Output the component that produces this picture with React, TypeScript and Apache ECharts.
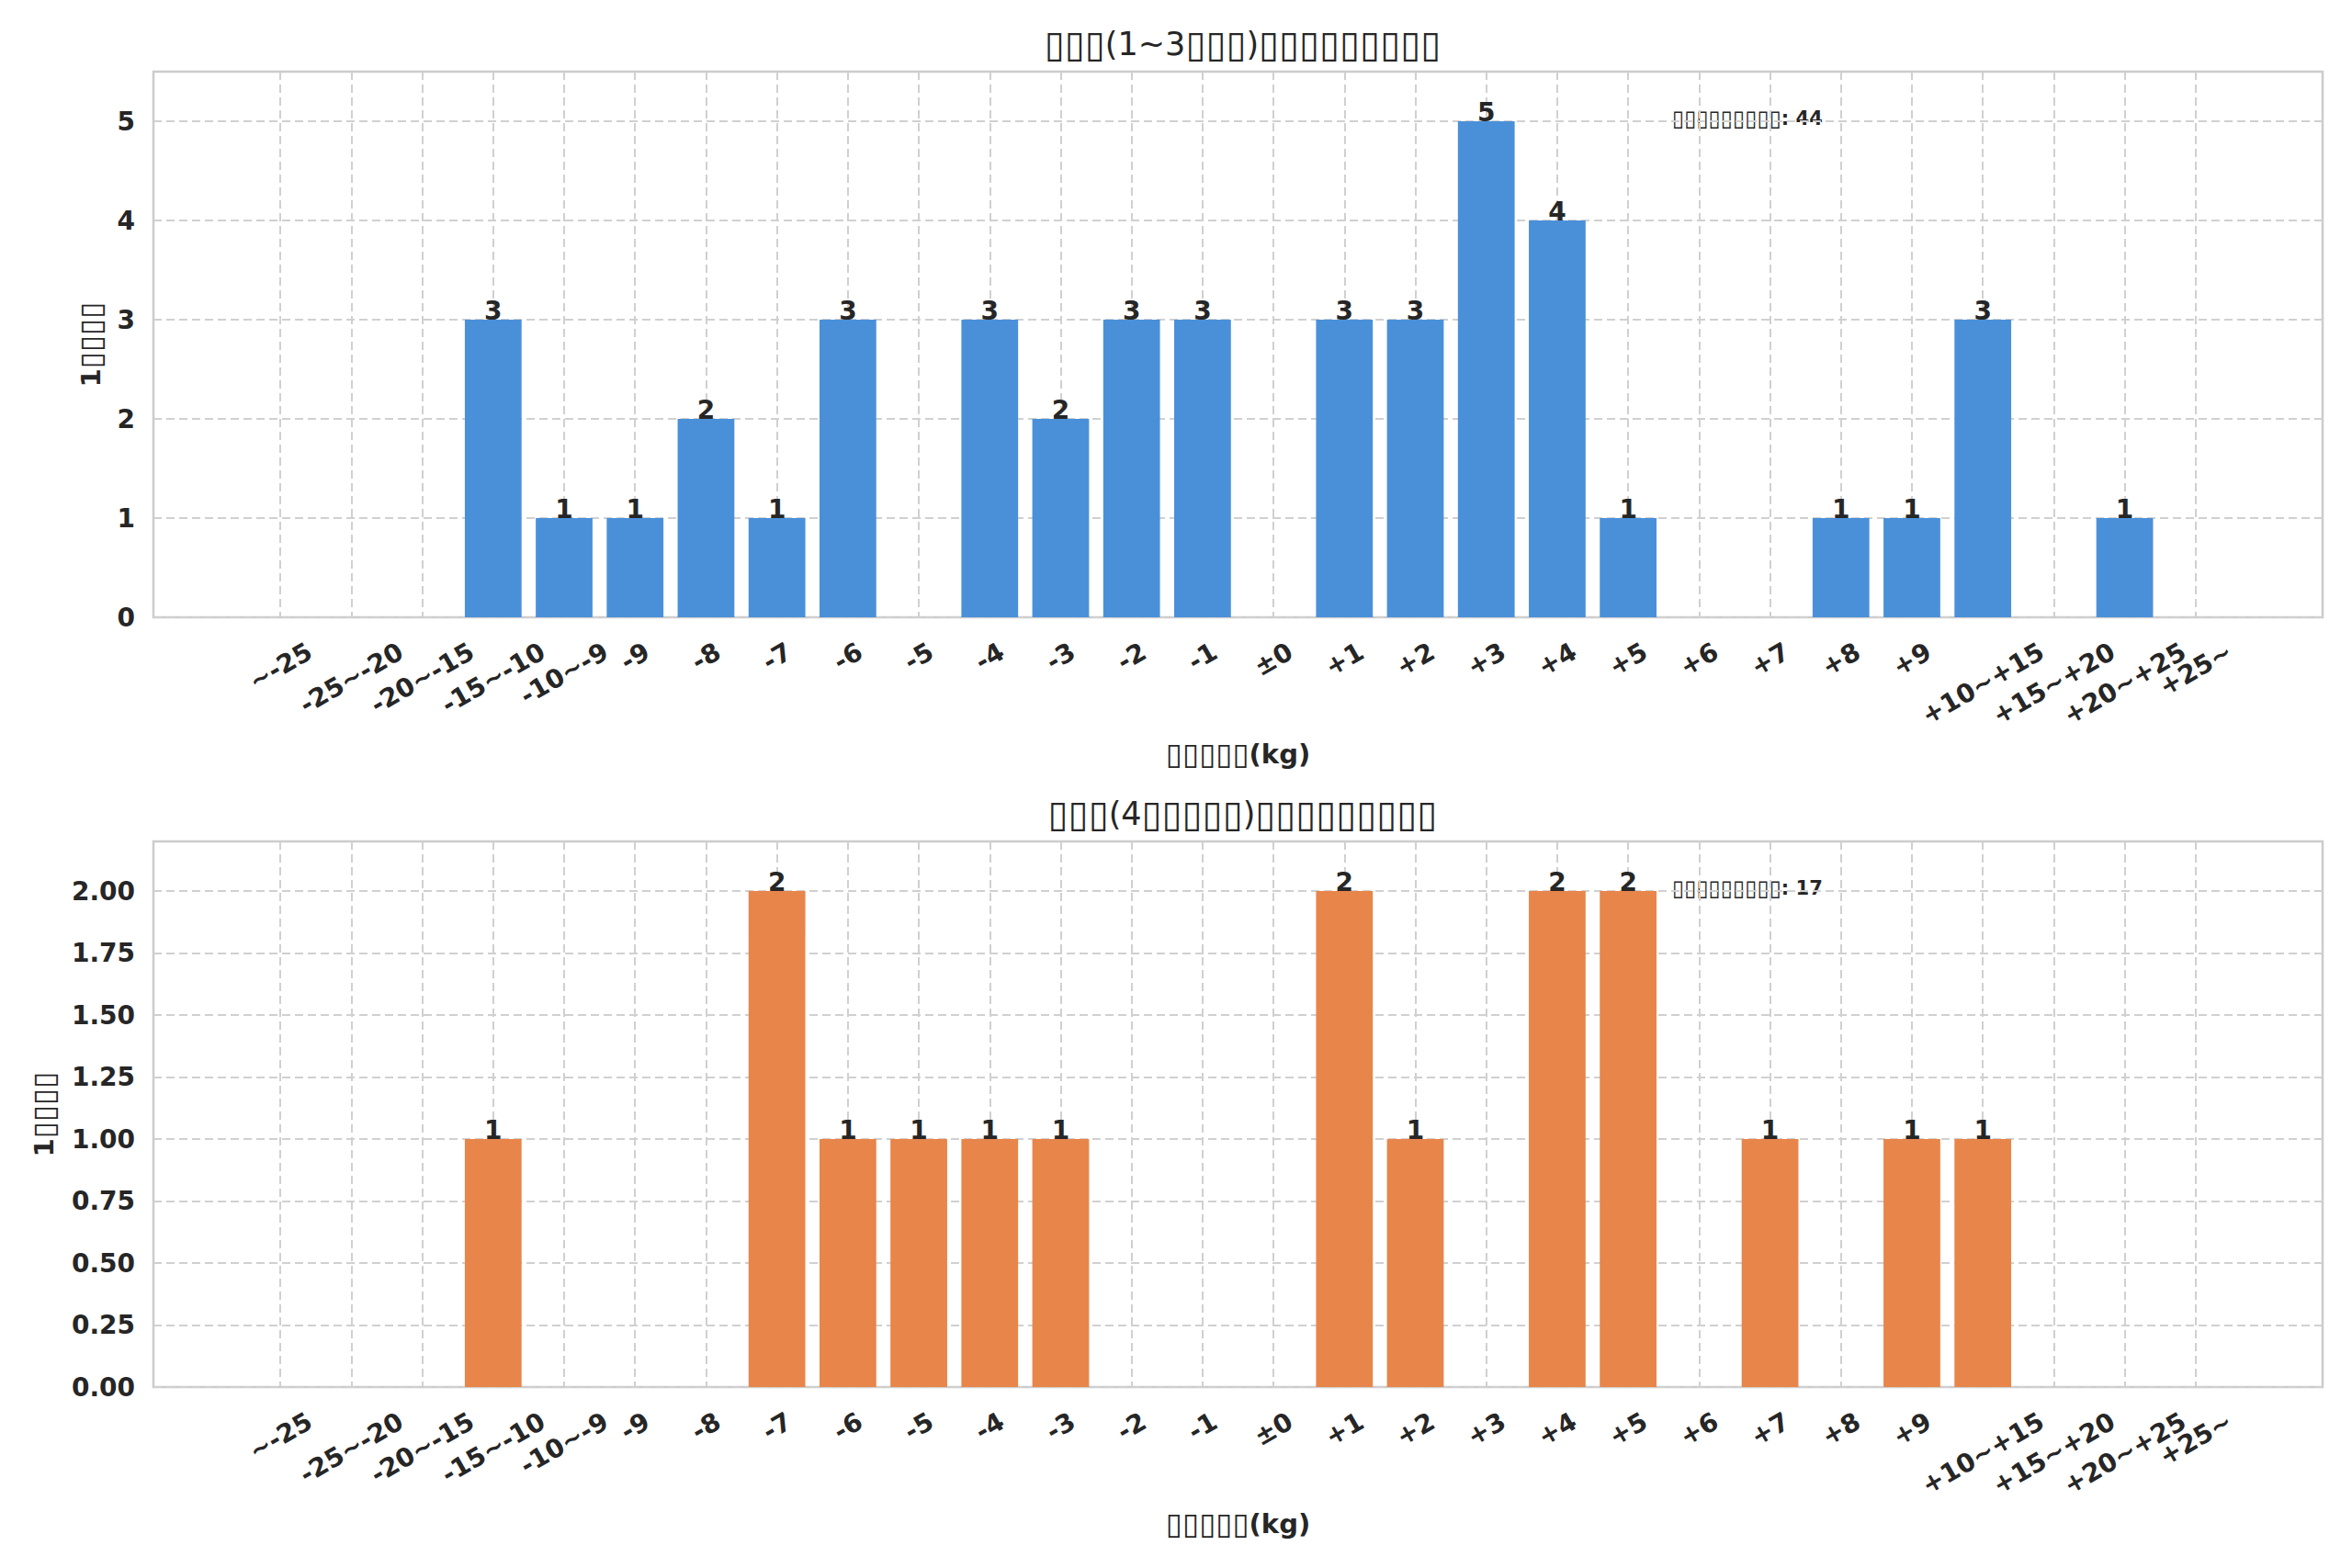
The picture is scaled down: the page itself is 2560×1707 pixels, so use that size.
import React, { useEffect, useRef } from 'react';
import * as echarts from 'echarts';

// weight-change buckets (kg)
const categories = [
  '~-25', '-25~-20', '-20~-15', '-15~-10', '-10~-9', '-9', '-8', '-7', '-6', '-5',
  '-4', '-3', '-2', '-1', '±0', '+1', '+2', '+3', '+4', '+5', '+6', '+7', '+8', '+9',
  '+10~+15', '+15~+20', '+20~+25', '+25~',
];
const shortTermCounts = [0, 0, 0, 3, 1, 1, 2, 1, 3, 0, 3, 2, 3, 3, 0, 3, 3, 5, 4, 1, 0, 0, 1, 1, 3, 0, 1, 0];
const longTermCounts = [0, 0, 0, 1, 0, 0, 0, 2, 1, 1, 1, 1, 0, 0, 0, 2, 1, 0, 2, 2, 0, 1, 0, 1, 1, 0, 0, 0];
const shortTermTicks = [0, 1, 2, 3, 4, 5];
const longTermTicks = [0, 0.25, 0.5, 0.75, 1, 1.25, 1.5, 1.75, 2];

// the source text was rendered without CJK glyphs, so only boxes are visible
const shortTitle = '▯▯▯(1~3▯▯▯)▯▯▯▯▯▯▯▯▯';
const longTitle = '▯▯▯(4▯▯▯▯▯)▯▯▯▯▯▯▯▯▯';
const xName = '▯▯▯▯▯(kg)';
const yName = '1▯▯▯▯';
const totalName = '▯▯▯▯▯▯▯▯▯';

const FONT = '"DejaVu Sans", sans-serif';
const TEXT = '#262626';
const TICK = 28;
const GRID_LEFT = 167;
const GRID_RIGHT = 32;
const PLOT_H = 594;
const gridLine = { color: '#d0d0d0', width: 2, type: [9, 5] as number[] };

// wrap runs of boxes in a rich style so they can be a little larger
const boxify = (s: string) => s.replace(/▯+/g, (m) => `{b|${m}}`);
const boxStyle = (size: number) => ({
  b: { fontSize: Math.round(size * 1.14), fontWeight: 'normal', fontFamily: FONT, color: TEXT },
});

export default function WeightChangeCharts() {
  const ref = useRef<HTMLDivElement>(null);
  useEffect(() => {
    document.body.style.margin = '0';
    if (!ref.current) return;

    // rotated x labels are centred under their tick (like matplotlib), so
    // shift each one down by half its rotated height using padding
    const ctx = document.createElement('canvas').getContext('2d')!;
    ctx.font = `bold ${TICK}px ${FONT}`;
    const rich: Record<string, any> = {};
    categories.forEach((c, i) => {
      const w = ctx.measureText(c).width;
      const d = (0.5 * w + 0.866 * TICK) / 2;
      rich['r' + i] = {
        padding: [1.732 * d, d, 0, 0],
        fontSize: TICK, fontWeight: 'bold', fontFamily: FONT, color: TEXT,
      };
    });
    const idx = categories.map((_, i) => i);
    // empty end labels keep ECharts from dropping the overlapping last one
    const labelValues = [-1.7, ...idx, categories.length - 0.3];

    const panels = [
      { title: shortTitle, counts: shortTermCounts, ticks: shortTermTicks, color: '#4a90d9', top: 78, yGap: 52, fmt: (v: number) => String(v) },
      { title: longTitle, counts: longTermCounts, ticks: longTermTicks, color: '#e8854a', top: 916, yGap: 103, fmt: (v: number) => v.toFixed(2) },
    ];

    const chart = echarts.init(ref.current, null, { renderer: 'svg' });
    chart.setOption({
      animation: false,
      backgroundColor: '#ffffff',
      title: panels.map((p) => ({
        text: boxify(p.title),
        left: GRID_LEFT + (2560 - GRID_LEFT - GRID_RIGHT) / 2,
        top: p.top - 55,
        textAlign: 'center',
        textStyle: { fontSize: 35, fontWeight: 'normal', color: TEXT, fontFamily: FONT, rich: boxStyle(35) },
      })),
      grid: panels.map((p) => ({
        left: GRID_LEFT, right: GRID_RIGHT, top: p.top, height: PLOT_H,
        show: true, borderColor: '#cccccc', borderWidth: 2.5, backgroundColor: 'transparent',
        outerBoundsMode: 'none',
      })),
      xAxis: panels.map((p, k) => ({
        type: 'value', gridIndex: k, min: -1.79, max: 28.79,
        name: boxify(xName), nameLocation: 'middle', nameGap: 132, nameMoveOverlap: false,
        nameTextStyle: { fontSize: 29, fontWeight: 'bold', color: TEXT, fontFamily: FONT, rich: boxStyle(29) },
        axisLine: { show: false },
        axisTick: { show: false, customValues: idx },
        axisLabel: {
          customValues: labelValues, rotate: 30, align: 'center', verticalAlign: 'middle', margin: 23,
          hideOverlap: false,
          formatter: (v: number) => {
            const i = Math.round(v);
            return Math.abs(v - i) < 1e-6 && categories[i] ? `{r${i}|${categories[i]}}` : '';
          },
          rich,
        },
        splitLine: { show: true, lineStyle: gridLine },
      })),
      yAxis: panels.map((p, k) => ({
        type: 'value', gridIndex: k, min: 0, max: Math.max(...p.counts) * 1.1,
        name: boxify(yName), nameLocation: 'middle', nameGap: p.yGap, nameMoveOverlap: false,
        nameTextStyle: { fontSize: 29, fontWeight: 'bold', color: TEXT, fontFamily: FONT, rich: boxStyle(29) },
        axisLine: { show: false },
        axisTick: { show: false, customValues: p.ticks },
        axisLabel: {
          customValues: p.ticks, formatter: p.fmt, margin: 20,
          fontSize: TICK, fontWeight: 'bold', color: TEXT, fontFamily: FONT,
        },
        splitLine: { show: true, lineStyle: gridLine },
      })),
      series: panels.map((p, k) => ({
        type: 'bar', xAxisIndex: k, yAxisIndex: k,
        data: p.counts.map((v, i) => [i, v]),
        barWidth: '80%',
        itemStyle: { color: p.color },
        label: {
          show: true, position: 'top', distance: -4,
          formatter: (q: any) => (q.value[1] ? String(q.value[1]) : ''),
          fontSize: TICK, fontWeight: 'bold', color: TEXT, fontFamily: FONT,
        },
      })),
      graphic: panels.map((p) => ({
        type: 'text', left: 1820, top: p.top + 39,
        style: {
          text: `{b|${totalName}}: ${p.counts.reduce((a, b) => a + b, 0)}`,
          font: `bold 21px ${FONT}`, fill: TEXT,
          rich: { b: { fontSize: 24, fontWeight: 'normal', fontFamily: FONT, fill: TEXT } },
        },
      })),
    });
    return () => chart.dispose();
  }, []);
  return <div ref={ref} style={{ width: 2560, height: 1707 }} />;
}
